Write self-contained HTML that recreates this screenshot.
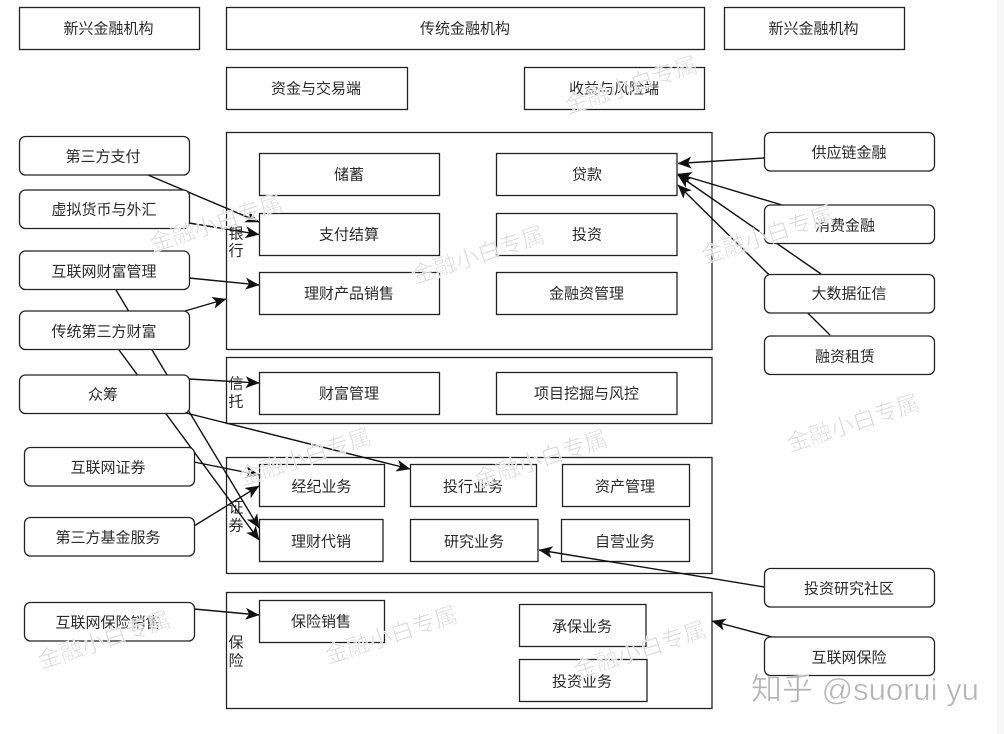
<!DOCTYPE html>
<html><head><meta charset="utf-8">
<style>
html,body{margin:0;padding:0;background:#fff;width:1004px;height:734px;overflow:hidden}
svg{display:block}
text{font-family:"Liberation Sans","Noto Sans CJK SC",sans-serif;font-size:15px;fill:#2a2a2a}
.b{fill:#fff;stroke:#222;stroke-width:1.3}
.l{fill:none;stroke:#111;stroke-width:1.4}
.t{text-anchor:middle;dominant-baseline:central}
.w{font-size:23px;fill:#d2d2d2;fill-opacity:.85;stroke:#fff;stroke-width:.6;text-anchor:middle;dominant-baseline:central}
</style></head><body>
<svg width="1004" height="734" viewBox="0 0 1004 734" xmlns="http://www.w3.org/2000/svg">
<defs><marker id="a" viewBox="0 0 14 12" refX="13.5" refY="6" markerWidth="14" markerHeight="12" markerUnits="userSpaceOnUse" orient="auto"><path d="M0 0L14 6L0 12L3.500 6Z" fill="#111"/></marker></defs>
<rect width="1004" height="734" fill="#fff"/>
<rect x="997" y="0" width="7" height="734" fill="#f6f6f6"/>

<!-- top -->
<g>
<rect class="b" x="19.5" y="7.5" width="180" height="42"/>
<rect class="b" x="226.5" y="7.5" width="478" height="42"/>
<rect class="b" x="724.5" y="7.5" width="180" height="42"/>
<rect class="b" x="226.5" y="67.5" width="181" height="42"/>
<rect class="b" x="524.5" y="67.5" width="180" height="42"/>
</g>

<!-- containers -->
<rect class="b" x="226.5" y="132.5" width="485.5" height="217"/>
<rect class="b" x="226.5" y="357.5" width="485.5" height="66"/>
<rect class="b" x="226.5" y="457.5" width="485.5" height="116"/>
<rect class="b" x="226.5" y="592.5" width="485.5" height="116"/>

<!-- inner boxes -->
<g>
<rect class="b" x="259.5" y="153.5" width="180" height="42"/>
<rect class="b" x="496.5" y="153.5" width="180.5" height="42"/>
<rect class="b" x="259.5" y="213.5" width="180" height="42"/>
<rect class="b" x="496.5" y="213.5" width="180.5" height="42"/>
<rect class="b" x="259.5" y="272.5" width="180" height="42"/>
<rect class="b" x="496.5" y="272.5" width="180.5" height="42"/>
<rect class="b" x="259.5" y="372.5" width="180" height="42"/>
<rect class="b" x="496.5" y="372.5" width="180.5" height="42"/>
<rect class="b" x="259.5" y="464.5" width="125" height="42"/>
<rect class="b" x="410.5" y="464.5" width="126" height="42"/>
<rect class="b" x="562.5" y="464.5" width="127" height="42"/>
<rect class="b" x="259.5" y="519.5" width="123.5" height="42"/>
<rect class="b" x="410.5" y="519.5" width="127.5" height="42"/>
<rect class="b" x="561.5" y="519.5" width="128" height="42"/>
<rect class="b" x="259.5" y="600.5" width="125" height="42"/>
<rect class="b" x="519.5" y="604.5" width="126.5" height="42"/>
<rect class="b" x="519.5" y="659.5" width="127.5" height="42"/>
</g>

<!-- connectors -->
<g class="l">
<line x1="148" y1="175" x2="259" y2="222" marker-end="url(#a)"/>
<line x1="189" y1="223" x2="259" y2="234.500" marker-end="url(#a)"/>
<line x1="189" y1="278" x2="259" y2="285" marker-end="url(#a)"/>
<line x1="116" y1="290" x2="259" y2="528" marker-end="url(#a)"/>
<line x1="119" y1="350" x2="259" y2="540" marker-end="url(#a)"/>
<line x1="185" y1="311" x2="226" y2="299" marker-end="url(#a)"/>
<line x1="189" y1="379" x2="259" y2="383" marker-end="url(#a)"/>
<line x1="186" y1="413" x2="410" y2="469" marker-end="url(#a)"/>
<line x1="194" y1="462" x2="259" y2="475" marker-end="url(#a)"/>
<line x1="194" y1="526" x2="259" y2="486" marker-end="url(#a)"/>
<line x1="194" y1="609" x2="259" y2="615" marker-end="url(#a)"/>
<line x1="764" y1="158" x2="678" y2="163.500" marker-end="url(#a)"/>
<line x1="782" y1="205" x2="678" y2="174" marker-end="url(#a)"/>
<line x1="821" y1="274" x2="678" y2="175" marker-end="url(#a)"/>
<line x1="830" y1="335" x2="678" y2="185" marker-end="url(#a)"/>
<line x1="764" y1="587" x2="539" y2="550" marker-end="url(#a)"/>
<line x1="772" y1="637" x2="712" y2="621" marker-end="url(#a)"/>
</g>

<!-- rounded nodes -->
<g>
<rect class="b" x="19.5" y="136.500" width="170" height="38.500" rx="6"/>
<rect class="b" x="19.5" y="190" width="170" height="38.500" rx="6"/>
<rect class="b" x="19.5" y="251" width="170" height="38.500" rx="6"/>
<rect class="b" x="19.5" y="311" width="170" height="38.500" rx="6"/>
<rect class="b" x="19.5" y="375" width="170" height="38.500" rx="6"/>
<rect class="b" x="24.500" y="447.500" width="170" height="38.500" rx="6"/>
<rect class="b" x="24.500" y="517.500" width="170" height="38.500" rx="6"/>
<rect class="b" x="24.500" y="602.500" width="170" height="38.500" rx="6"/>
<rect class="b" x="764.500" y="132.500" width="170" height="38.500" rx="6"/>
<rect class="b" x="764.500" y="205" width="170" height="38.500" rx="6"/>
<rect class="b" x="764.500" y="274.500" width="170" height="38.500" rx="6"/>
<rect class="b" x="764.500" y="336" width="170" height="38.500" rx="6"/>
<rect class="b" x="764.500" y="568.500" width="170" height="38.500" rx="6"/>
<rect class="b" x="764.500" y="637" width="170" height="38.500" rx="6"/>
</g>

<!-- labels -->
<g>
<text class="t" x="108.500" y="29">新兴金融机构</text>
<text class="t" x="465" y="29">传统金融机构</text>
<text class="t" x="813.500" y="29">新兴金融机构</text>
<text class="t" x="316" y="89">资金与交易端</text>
<text class="t" x="614" y="89">收益与风险端</text>
<text class="t" x="349" y="175">储蓄</text>
<text class="t" x="587" y="175">贷款</text>
<text class="t" x="349" y="235">支付结算</text>
<text class="t" x="587" y="235">投资</text>
<text class="t" x="349" y="294">理财产品销售</text>
<text class="t" x="586.500" y="294">金融资管理</text>
<text class="t" x="349" y="394">财富管理</text>
<text class="t" x="586.500" y="394">项目挖掘与风控</text>
<text class="t" x="321.500" y="487">经纪业务</text>
<text class="t" x="473" y="487">投行业务</text>
<text class="t" x="625" y="487">资产管理</text>
<text class="t" x="321" y="542">理财代销</text>
<text class="t" x="474" y="542">研究业务</text>
<text class="t" x="625" y="542">自营业务</text>
<text class="t" x="321" y="622">保险销售</text>
<text class="t" x="582" y="627">承保业务</text>
<text class="t" x="582" y="682">投资业务</text>
<text class="t" x="103" y="157">第三方支付</text>
<text class="t" x="104" y="210">虚拟货币与外汇</text>
<text class="t" x="104" y="272">互联网财富管理</text>
<text class="t" x="104" y="332">传统第三方财富</text>
<text class="t" x="103" y="395">众筹</text>
<text class="t" x="108" y="468">互联网证券</text>
<text class="t" x="108" y="538">第三方基金服务</text>
<text class="t" x="108" y="623">互联网保险销售</text>
<text class="t" x="849" y="153">供应链金融</text>
<text class="t" x="845" y="226">消费金融</text>
<text class="t" x="849" y="294">大数据征信</text>
<text class="t" x="845" y="357">融资租赁</text>
<text class="t" x="849" y="589">投资研究社区</text>
<text class="t" x="849" y="658">互联网保险</text>
<text class="t" x="236" y="234">银</text>
<text class="t" x="236" y="251">行</text>
<text class="t" x="236" y="384">信</text>
<text class="t" x="236" y="402">托</text>
<text class="t" x="236" y="508">证</text>
<text class="t" x="236" y="526">券</text>
<text class="t" x="236" y="643">保</text>
<text class="t" x="236" y="661">险</text>
</g>

<!-- watermarks -->
<g>
<text class="w" transform="translate(631,85) rotate(-18)">金融小白专属</text>
<text class="w" transform="translate(216,223) rotate(-18)">金融小白专属</text>
<text class="w" transform="translate(478,255) rotate(-18)">金融小白专属</text>
<text class="w" transform="translate(767,235) rotate(-18)">金融小白专属</text>
<text class="w" transform="translate(853,423) rotate(-18)">金融小白专属</text>
<text class="w" transform="translate(305,457) rotate(-18)">金融小白专属</text>
<text class="w" transform="translate(541,459) rotate(-18)">金融小白专属</text>
<text class="w" transform="translate(104,640) rotate(-18)">金融小白专属</text>
<text class="w" transform="translate(391,635) rotate(-18)">金融小白专属</text>
<text class="w" transform="translate(640,650) rotate(-18)">金融小白专属</text>
</g>
<text x="751" y="700" style="font-size:31px;fill:#b4b4b4;stroke:#fff;stroke-width:.5">知乎 @suorui yu</text>
</svg>
</body></html>
